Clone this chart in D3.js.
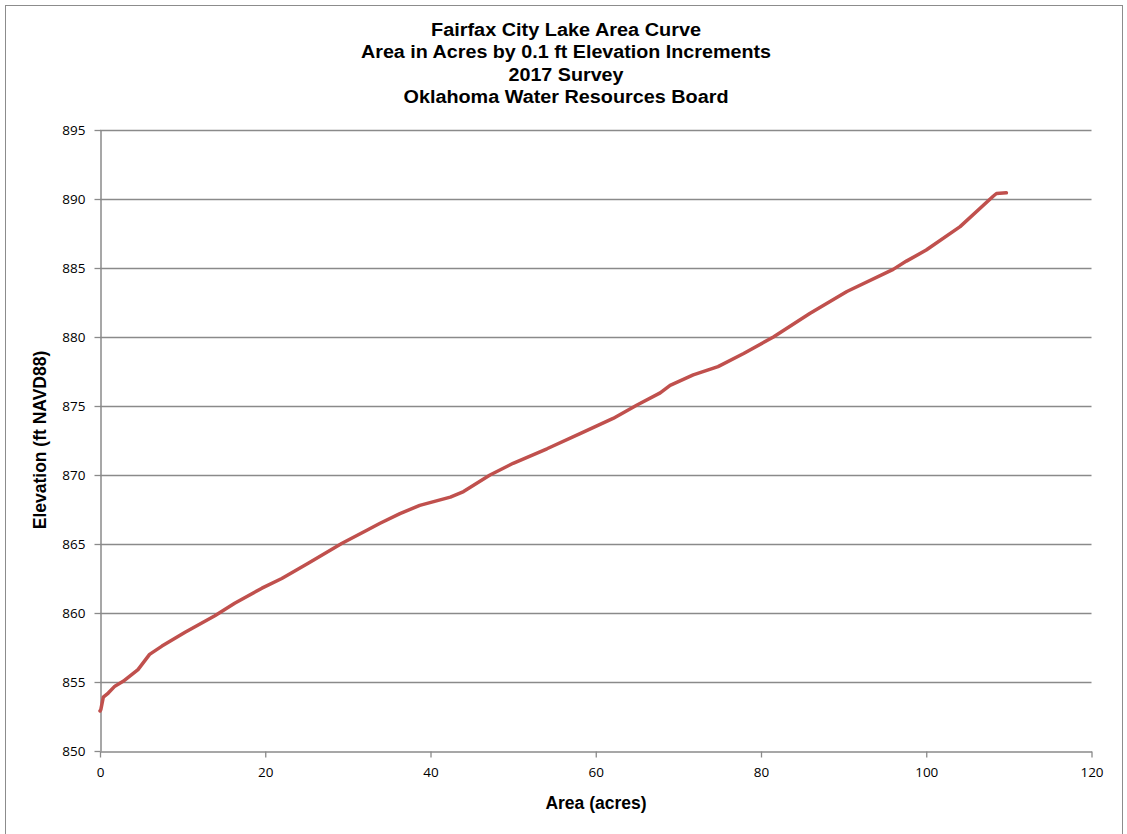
<!DOCTYPE html>
<html><head><meta charset="utf-8">
<script src="https://cdn.jsdelivr.net/npm/d3@7"></script>
<style>body{margin:0;background:#fff;} svg{display:block;}</style>
</head><body>
<svg id="c" width="1127" height="834"></svg>
<script>
const titleLines = ["Fairfax City Lake Area Curve","Area in Acres by 0.1 ft Elevation Increments","2017 Survey","Oklahoma Water Resources Board"];
const xTicks = [0,20,40,60,80,100,120];
const yTicks = [850,855,860,865,870,875,880,885,890,895];
const areaAcres = [0,0.1,0.4,1.0,1.8,2.8,4.6,6.0,7.5,10.3,13.9,16.3,19.6,22,25.2,29.3,32.3,33.9,36.3,38.7,42.4,44,47.2,50,54.1,58.1,62.1,65,67.8,69,71.8,74.8,77.9,81.5,85.9,90.4,96,97.6,100,104.1,108.1,108.5,109.7];
const elevFt = [852.9,853.0,853.9,854.2,854.7,855.05,855.9,857.0,857.6,858.6,859.8,860.7,861.8,862.5,863.6,865.05,866.0,866.5,867.2,867.8,868.4,868.8,870.0,870.85,871.9,873.0,874.1,875.07,875.95,876.5,877.25,877.85,878.8,880.0,881.7,883.3,884.9,885.5,886.3,888.0,890.2,890.4,890.45];

const svg = d3.select("#c");
svg.append("rect").attr("x",5.5).attr("y",5.5).attr("width",1117).attr("height",840).attr("fill","#fff").attr("stroke","#8c8c8c").attr("stroke-width",1);

const x = d3.scaleLinear().domain([0,120]).range([100,1091.5]);
const y = d3.scaleLinear().domain([850,895]).range([751,130]);

svg.append("g").selectAll("line").data(yTicks.slice(1)).join("line")
  .attr("x1",x(0)).attr("x2",x(120)).attr("y1",d=>Math.round(y(d))+0.5).attr("y2",d=>Math.round(y(d))+0.5)
  .attr("stroke","#8a8a8a").attr("stroke-width",1.3);

const gx = svg.append("g").attr("transform",`translate(0,${Math.round(y(850))+0.5})`)
  .call(d3.axisBottom(x).tickValues(xTicks).tickSize(6).tickPadding(10).tickSizeOuter(0));
const gy = svg.append("g").attr("transform",`translate(${x(0)+0.5},0)`)
  .call(d3.axisLeft(y).tickValues(yTicks).tickSize(6).tickPadding(9).tickSizeOuter(0));
[gx,gy].forEach(g=>{
  g.select(".domain").attr("stroke","#8a8a8a").attr("stroke-width",1.5);
  g.selectAll(".tick line").attr("stroke","#8a8a8a").attr("stroke-width",1.3);
  g.selectAll(".tick text").attr("font-family","'Open Sans', 'Liberation Sans', sans-serif").attr("font-size",13.5).attr("fill","#000");
});
gy.selectAll(".tick text").attr("dy","0.35em");

const line = d3.line().x((d,i)=>x(areaAcres[i])).y((d,i)=>y(elevFt[i])).curve(d3.curveLinear);
svg.append("path").datum(elevFt).attr("d",line).attr("fill","none")
  .attr("stroke","#C0504D").attr("stroke-width",3.5).attr("stroke-linejoin","round").attr("stroke-linecap","round");

const tw = [270,410,115,325];
svg.append("g").selectAll("text").data(titleLines).join("text")
  .attr("x",566).attr("y",(d,i)=>36+i*22.3)
  .attr("text-anchor","middle").attr("font-family","'Liberation Sans', Arial, sans-serif")
  .attr("font-weight","bold").attr("font-size",17.5).attr("fill","#000")
  .attr("textLength",(d,i)=>tw[i]).attr("lengthAdjust","spacingAndGlyphs")
  .text(d=>d);

svg.append("text").attr("x",596).attr("y",809).attr("text-anchor","middle")
  .attr("font-family","'Liberation Sans', Arial, sans-serif").attr("font-weight","bold").attr("font-size",17.5)
  .text("Area (acres)");
svg.append("text").attr("transform",`translate(46,440) rotate(-90)`).attr("text-anchor","middle")
  .attr("font-family","'Liberation Sans', Arial, sans-serif").attr("font-weight","bold").attr("font-size",17.5)
  .text("Elevation (ft NAVD88)");
</script>
</body></html>
